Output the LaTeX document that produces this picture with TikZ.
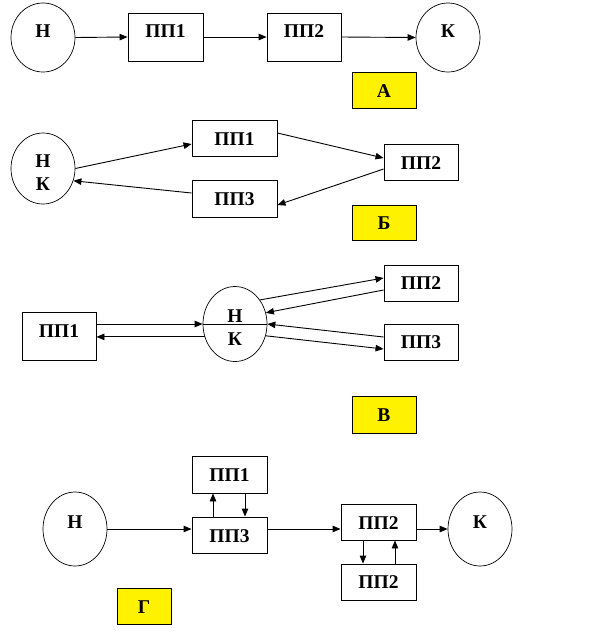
\documentclass[tikz,border=0pt]{standalone}
\usepackage{fontspec}
\setmainfont{Liberation Serif}
\usetikzlibrary{shapes.geometric,arrows.meta,calc}
\tikzset{
  every picture/.style={x=1pt,y=-1pt},
  ln/.style={line width=0.9pt},
  arr/.style={ln,-{Triangle[length=8pt,width=6.5pt]}},
  boxn/.style={draw,line width=0.9pt,inner sep=0pt},
  circn/.style={draw,ellipse,line width=0.7pt,inner sep=0pt,minimum width=64pt,minimum height=72pt},
  tagn/.style={draw,fill=yellow,line width=0.9pt,inner sep=0pt},
  txt/.style={anchor=base,inner sep=0pt,font=\fontsize{19.5}{22}\selectfont\bfseries}
}
\begin{document}
\begin{tikzpicture}
\useasboundingbox (0,0) rectangle (589,638);
% ---------- A ----------
\node[circn,minimum height=69pt] (aH) at (43,37.5) {};
\node[boxn,minimum width=75pt,minimum height=48pt] (aP1) at (165.5,37) {};
\node[boxn,minimum width=74pt,minimum height=48pt] (aP2) at (304,37) {};
\node[circn,minimum height=69pt] (aK) at (448,37.5) {};
\node[tagn,minimum width=64pt,minimum height=36pt] (aT) at (384,90) {};
\node[txt] (aHt) at (43,37) {Н};
\node[txt] (aP1t) at (165.5,37) {ПП1};
\node[txt] (aP2t) at (304,37) {ПП2};
\node[txt] (aKt) at (448,37) {К};
\node[txt] (aTt) at (384,97) {А};
\draw[arr] (aH.east) -- (aP1.west);
\draw[arr] (aP1.east) -- (aP2.west);
\draw[arr] (aP2.east) -- (aK.west);
% ---------- B ----------
\node[circn,minimum height=71pt] (bC) at (43,168.5) {};
\node[boxn,minimum width=85pt,minimum height=36pt] (bP1) at (234.5,138) {};
\node[boxn,minimum width=74pt,minimum height=36pt] (bP2) at (421,162) {};
\node[boxn,minimum width=85pt,minimum height=37pt] (bP3) at (234.5,198.5) {};
\node[tagn,minimum width=64pt,minimum height=35pt] (bT) at (384,222.5) {};
\node[txt] (bHt) at (43,167) {Н};
\node[txt] (bKt) at (43,190) {К};
\node[txt] (bP1t) at (234.5,145) {ПП1};
\node[txt] (bP2t) at (421,169) {ПП2};
\node[txt] (bP3t) at (234.5,205) {ПП3};
\node[txt] (bTt) at (384,229) {Б};
\draw[arr] (bC.east) -- ($(bP1.west)+(0,6)$);
\draw[arr] ($(bP1.east)+(0,-5)$) -- ($(bP2.west)+(0,-4)$);
\draw[arr] ($(bP2.west)+(0,7)$) -- ($(bP3.east)+(0,6.5)$);
\draw[arr] ($(bP3.west)+(0,-5.5)$) -- (bC.-22);
% ---------- V ----------
\node[boxn,minimum width=74pt,minimum height=48pt] (cP1) at (59,336) {};
\node[circn,minimum height=75pt] (cC) at (235,324) {};
\node[boxn,minimum width=74pt,minimum height=36pt] (cP2) at (421,283) {};
\node[boxn,minimum width=74pt,minimum height=36pt] (cP3) at (421,342) {};
\node[tagn,minimum width=64pt,minimum height=37pt] (cT) at (384,414.5) {};
\node[txt] (cP1t) at (59,337) {ПП1};
\node[txt] (cHt) at (235,322) {Н};
\node[txt] (cKt) at (235,345) {К};
\node[txt] (cP2t) at (421,289) {ПП2};
\node[txt] (cP3t) at (421,348) {ПП3};
\node[txt] (cTt) at (384,421) {В};
\draw[ln] (cC.west) -- (cC.east);
\draw[arr] (cC.west -| cP1.east) -- (cC.west);
\draw[arr] (cC.203) -- (cC.203 -| cP1.east);
\draw[arr] (cC.44) -- ($(cP2.west)+(0,-5)$);
\draw[arr] ($(cP2.west)+(0,7)$) -- (cC.20);
\draw[arr] ($(cP3.west)+(0,-5)$) -- (cC.east);
\draw[arr] (cC.-21) -- ($(cP3.west)+(0,7)$);
% ---------- G ----------
\node[circn,minimum height=74pt] (dH) at (75,529) {};
\node[boxn,minimum width=75pt,minimum height=37pt] (dP1) at (229.5,474.5) {};
\node[boxn,minimum width=75pt,minimum height=36pt] (dP3) at (229.5,535) {};
\node[boxn,minimum width=75pt,minimum height=36pt] (dP2) at (378.5,522) {};
\node[boxn,minimum width=75pt,minimum height=36pt] (dP4) at (378.5,582) {};
\node[circn,minimum height=74pt] (dK) at (480,529) {};
\node[tagn,minimum width=54pt,minimum height=36pt] (dT) at (144,606) {};
\node[txt] (dHt) at (75,528) {Н};
\node[txt] (dP1t) at (229.5,481) {ПП1};
\node[txt] (dP3t) at (229.5,542) {ПП3};
\node[txt] (dP2t) at (378.5,529) {ПП2};
\node[txt] (dP4t) at (378.5,588) {ПП2};
\node[txt] (dKt) at (480,528) {К};
\node[txt] (dTt) at (144,613) {Г};
\draw[arr] (dH.east) -- (dH.east -| dP3.west);
\draw[arr] (dH.east -| dP3.east) -- (dH.east -| dP2.west);
\draw[arr] (dK.west -| dP2.east) -- (dK.west);
\draw[arr] ($(dP3.north)+(-16.5,0)$) -- ($(dP1.south)+(-16.5,0)$);
\draw[arr] ($(dP1.south)+(15.5,0)$) -- ($(dP3.north)+(15.5,0)$);
\draw[arr] ($(dP2.south)+(-15.5,0)$) -- ($(dP4.north)+(-15.5,0)$);
\draw[arr] ($(dP4.north)+(16.5,0)$) -- ($(dP2.south)+(16.5,0)$);
\end{tikzpicture}
\end{document}
